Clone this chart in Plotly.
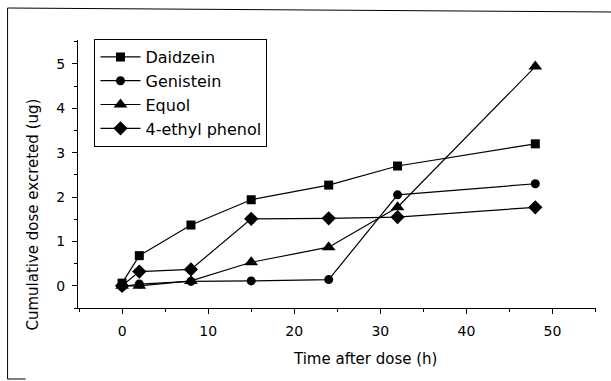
import plotly.graph_objects as go

# Sampling times (h) and cumulative amounts excreted (ug)
time_h = [0, 2, 8, 15, 24, 32, 48]
daidzein = [0.06, 0.68, 1.37, 1.94, 2.27, 2.70, 3.20]
genistein = [-0.02, 0.04, 0.10, 0.11, 0.14, 2.05, 2.30]
equol = [0.00, 0.00, 0.11, 0.53, 0.87, 1.77, 4.94]
ethyl_phenol = [0.00, 0.32, 0.37, 1.51, 1.52, 1.55, 1.77]

series_names = ["Daidzein", "Genistein", "Equol", "4-ethyl phenol"]
series_values = [daidzein, genistein, equol, ethyl_phenol]
series_symbols = ["square", "circle", "triangle-up", "diamond"]
series_sizes = [9, 9, 12, 11]

x_ticks = [0, 10, 20, 30, 40, 50]
y_ticks = [0, 1, 2, 3, 4, 5]

FONT = "DejaVu Sans"
W, H = 611, 381
L, R, T, B = 77.5, 596, 40, 308   # plot-area edges in pixels


def px(x):
    return (x - L) / (R - L)


def py(y):
    return (B - y) / (B - T)


fig = go.Figure()
for name, vals, sym, size in zip(series_names, series_values, series_symbols, series_sizes):
    fig.add_trace(go.Scatter(
        x=time_h, y=vals, name=name, mode="lines+markers",
        line=dict(color="black", width=1.2),
        marker=dict(symbol=sym, size=size, color="black"),
    ))

axis_common = dict(
    showline=True, linecolor="black", linewidth=1.2,
    showgrid=False, zeroline=False, mirror=False,
    ticks="outside", ticklen=5, tickwidth=1, tickcolor="black",
    tickfont=dict(family=FONT, size=14, color="black"),
)

fig.update_xaxes(
    range=[-5.12, 55.05], tickvals=x_ticks,
    minor=dict(dtick=5, tick0=0, ticks="outside", ticklen=3, tickcolor="black"),
    ticklabelstandoff=5,
    **axis_common,
)
fig.update_yaxes(
    range=[-0.5, 5.54], tickvals=y_ticks,
    minor=dict(dtick=0.5, tick0=0, ticks="outside", ticklen=3, tickcolor="black"),
    ticklabelstandoff=4,
    **axis_common,
)

# Axis titles
fig.add_annotation(
    text="Time after dose (h)", xref="paper", yref="paper",
    x=px(365), y=py(359), xanchor="center", yanchor="middle", showarrow=False,
    font=dict(family=FONT, size=15, color="black"),
)
fig.add_annotation(
    text="Cumulative dose excreted (ug)", xref="paper", yref="paper",
    x=px(32), y=py(215), xanchor="center", yanchor="middle", showarrow=False,
    textangle=-90,
    font=dict(family=FONT, size=15, color="black"),
)

# Outer frame around the figure
frame = dict(type="line", xref="paper", yref="paper", line=dict(color="black", width=1))
fig.add_shape(x0=px(7), y0=py(8), x1=px(612), y1=py(12), **frame)
fig.add_shape(x0=px(7), y0=py(8), x1=px(7), y1=py(379), **frame)
fig.add_shape(x0=px(7), y0=py(379), x1=px(25), y1=py(379), **frame)

fig.update_layout(
    width=W, height=H,
    margin=dict(l=L, r=W - R, t=T, b=H - B, pad=0),
    paper_bgcolor="white", plot_bgcolor="white",
    showlegend=True,
    legend=dict(
        x=px(94), y=py(39), xanchor="left", yanchor="top",
        bordercolor="black", borderwidth=1, bgcolor="white",
        font=dict(family=FONT, size=16, color="black"),
        itemwidth=40, tracegroupgap=0,
    ),
)

fig.write_html("out.html")
